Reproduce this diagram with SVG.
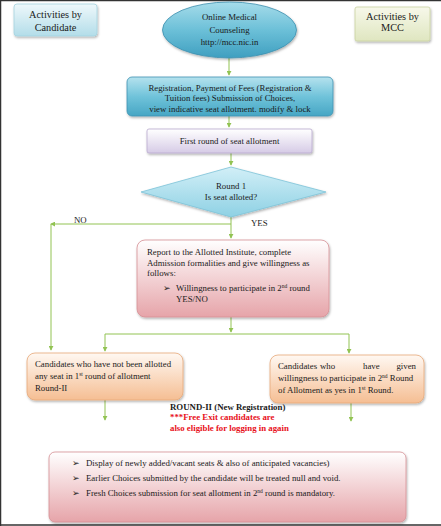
<svg xmlns="http://www.w3.org/2000/svg" width="441" height="526" viewBox="0 0 441 526">
<style>
text{font-family:"Liberation Serif","Times New Roman",serif;font-size:8.8px;fill:#1a1a1a}
.c{text-anchor:middle}
.b{font-weight:bold}
.r{fill:#e8101a;font-weight:bold}
.big{font-size:10.3px}
.conn{fill:none;stroke:#92c353;stroke-width:1}
.sh{filter:url(#sh)}
</style>
<defs>
<filter id="sh" x="-10%" y="-10%" width="130%" height="140%"><feDropShadow dx="0.8" dy="1.5" stdDeviation="1" flood-color="#000" flood-opacity="0.3"/></filter>
<linearGradient id="gCand" x1="0" y1="0" x2="0" y2="1"><stop offset="0" stop-color="#eef8fb"/><stop offset="1" stop-color="#b3dde9"/></linearGradient>
<linearGradient id="gMcc" x1="0" y1="0" x2="0" y2="1"><stop offset="0" stop-color="#f7f8ea"/><stop offset="1" stop-color="#dfe6c0"/></linearGradient>
<linearGradient id="gTeal" x1="0" y1="0" x2="0" y2="1"><stop offset="0" stop-color="#a6dcea"/><stop offset="0.5" stop-color="#6cc0d8"/><stop offset="1" stop-color="#3f9fc0"/></linearGradient>
<linearGradient id="gReg" x1="0" y1="0" x2="0" y2="1"><stop offset="0" stop-color="#b5e2ee"/><stop offset="0.5" stop-color="#70c3da"/><stop offset="1" stop-color="#46a6c4"/></linearGradient>
<linearGradient id="gPur" x1="0" y1="0" x2="0" y2="1"><stop offset="0" stop-color="#ffffff"/><stop offset="1" stop-color="#d6cbe6"/></linearGradient>
<linearGradient id="gDia" x1="0" y1="0" x2="0" y2="1"><stop offset="0" stop-color="#d2eff7"/><stop offset="1" stop-color="#8ed1e4"/></linearGradient>
<linearGradient id="gPink" x1="0" y1="0" x2="0" y2="1"><stop offset="0" stop-color="#ffffff"/><stop offset="1" stop-color="#e6a4a9"/></linearGradient>
<linearGradient id="gPeach" x1="0" y1="0" x2="0" y2="1"><stop offset="0" stop-color="#fff8f2"/><stop offset="1" stop-color="#f5be93"/></linearGradient>
<marker id="ah" viewBox="0 0 6 6" refX="5" refY="3" markerWidth="5" markerHeight="5" orient="auto"><path d="M0,0 L6,3 L0,6 z" fill="#92c353"/></marker>
</defs>
<rect x="0" y="0" width="441" height="526" fill="#ffffff"/>
<path d="M0.5,526 V0.5 H441" fill="none" stroke="#333" stroke-width="1.5"/>
<line x1="0" y1="525" x2="441" y2="525" stroke="#333" stroke-width="1.5"/>

<g id="connectors">
<path class="conn" d="M229,58 V75" marker-end="url(#ah)"/>
<path class="conn" d="M229,116 V127" marker-end="url(#ah)"/>
<path class="conn" d="M231,153 V165" marker-end="url(#ah)"/>
<path class="conn" d="M231,217 V238" marker-end="url(#ah)"/>
<path class="conn" d="M231,224 H51" marker-end="url(#ah)"/>
<path class="conn" d="M51,224 V350" marker-end="url(#ah)"/>
<path class="conn" d="M231,317 V332" marker-end="url(#ah)"/>
<path class="conn" d="M105,334 H349" />
<path class="conn" d="M105,334 V351" marker-end="url(#ah)"/>
<path class="conn" d="M349,334 V353" marker-end="url(#ah)"/>
<path class="conn" d="M105,400 V420" marker-end="url(#ah)"/>
<path class="conn" d="M351,403 V421" marker-end="url(#ah)"/>
</g>

<g id="candidate-label">
<rect class="sh" x="14" y="4" width="83" height="32" rx="3" fill="url(#gCand)" stroke="#a5d3e0" stroke-width="0.8"/>
<text class="c big" x="55.5" y="17.5">Activities by</text>
<text class="c big" x="55.5" y="30.5">Candidate</text>
</g>

<g id="mcc-label">
<rect class="sh" x="355" y="7" width="75" height="34" rx="2" fill="url(#gMcc)" stroke="#c9d2a0" stroke-width="0.8"/>
<text class="c big" x="392.5" y="19.5">Activities by</text>
<text class="c big" x="392.5" y="31">MCC</text>
</g>

<g id="online-counseling">
<ellipse class="sh" cx="229.5" cy="30" rx="67" ry="28" fill="url(#gTeal)" stroke="#3d8fae" stroke-width="0.8"/>
<text class="c" font-size="9.8" x="229.5" y="20">Online Medical</text>
<text class="c" font-size="9.8" x="229.5" y="32.5">Counseling</text>
<text class="c" font-size="9.8" x="229.5" y="45">http://mcc.nic.in</text>
</g>

<g id="registration">
<rect class="sh" x="127" y="77" width="206" height="39" rx="5" fill="url(#gReg)" stroke="#3f93b2" stroke-width="0.8"/>
<text class="c" x="230" y="90.5">Registration, Payment of Fees (Registration &amp;</text>
<text class="c" x="230" y="101">Tuition fees) Submission of Choices,</text>
<text class="c" x="230" y="111.5">view indicative seat allotment. modify &amp; lock</text>
</g>

<g id="first-round">
<rect class="sh" x="147" y="129" width="165" height="24" rx="2" fill="url(#gPur)" stroke="#b9a9cf" stroke-width="0.8"/>
<text class="c" x="229.5" y="144">First round of seat allotment</text>
</g>

<g id="decision">
<polygon class="sh" points="231,167 326,192 231,217 141,192" fill="url(#gDia)" stroke="#7cc3d8" stroke-width="0.8"/>
<text class="c" font-size="9.3" x="231" y="189">Round 1</text>
<text class="c" font-size="9.3" x="231" y="200">Is seat alloted?</text>
</g>

<g id="labels">
<text x="74" y="223">NO</text>
<text x="251" y="226">YES</text>
</g>

<g id="report">
<rect class="sh" x="137" y="240" width="192" height="77" rx="8" fill="url(#gPink)" stroke="#d68f94" stroke-width="0.8"/>
<text x="147" y="255">Report to the Allotted Institute, complete</text>
<text x="147" y="265.5">Admission formalities and give willingness as</text>
<text x="147" y="276">follows:</text>
<text x="163" y="291">➢</text>
<text x="176" y="291">Willingness to participate in 2<tspan font-size="5.5" dy="-3">nd</tspan><tspan dy="3"> round</tspan></text>
<text x="176" y="302">YES/NO</text>
</g>

<g id="not-allotted">
<rect class="sh" x="27" y="353" width="156" height="47" rx="8" fill="url(#gPeach)" stroke="#e7a878" stroke-width="0.8"/>
<text x="35" y="367">Candidates who have not been allotted</text>
<text x="35" y="379">any seat in 1<tspan font-size="5.5" dy="-3">st</tspan><tspan dy="3"> round of allotment</tspan></text>
<text x="35" y="391">Round-II</text>
</g>

<g id="willing">
<rect class="sh" x="270" y="355" width="154" height="48" rx="8" fill="url(#gPeach)" stroke="#e7a878" stroke-width="0.8"/>
<text x="278" y="368.5">Candidates</text>
<text x="320" y="368.5">who</text>
<text x="363" y="368.5">have</text>
<text x="416" y="368.5" text-anchor="end">given</text>
<text x="278" y="380.5">willingness to participate in 2<tspan font-size="5.5" dy="-3">nd</tspan><tspan dy="3"> Round</tspan></text>
<text x="278" y="392.5">of Allotment as yes in 1<tspan font-size="5.5" dy="-3">st</tspan><tspan dy="3"> Round.</tspan></text>
</g>

<g id="round2-note">
<text class="b" x="170" y="409.5">ROUND-II (New Registration)</text>
<text class="r" x="170" y="420">***Free Exit candidates are</text>
<text class="r" x="170" y="431">also eligible for logging in again</text>
</g>

<g id="round2-box">
<rect class="sh" x="49" y="452" width="357" height="70" rx="6" fill="url(#gPink)" stroke="#d68f94" stroke-width="0.8"/>
<text x="72" y="466">➢</text>
<text x="86" y="466">Display of newly added/vacant seats &amp; also of anticipated vacancies)</text>
<text x="72" y="481">➢</text>
<text x="86" y="481">Earlier Choices submitted by the candidate will be treated null and void.</text>
<text x="72" y="496">➢</text>
<text x="86" y="496">Fresh Choices submission for seat allotment in 2<tspan font-size="5.5" dy="-3">nd</tspan><tspan dy="3"> round is mandatory.</tspan></text>
</g>
</svg>
